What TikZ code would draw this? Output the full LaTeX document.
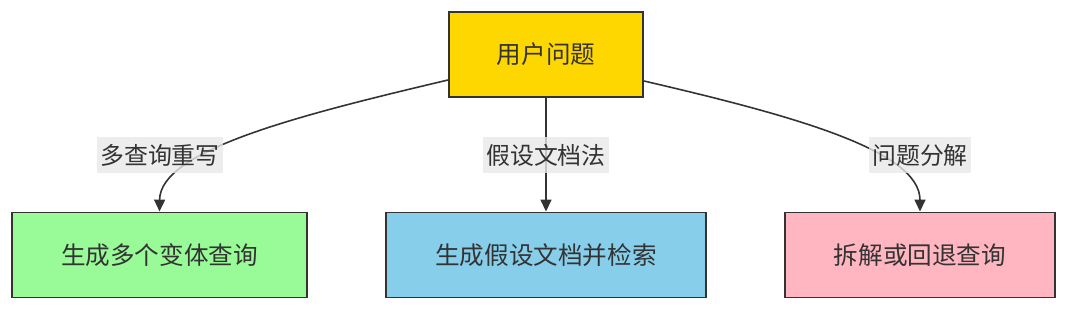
\documentclass[tikz,border=0pt]{standalone}
\usepackage{fontspec}
\setmainfont{Noto Sans CJK SC}
\usepackage{tikz}
\usetikzlibrary{arrows.meta}
\definecolor{qgold}{HTML}{FFD700}
\definecolor{qgreen}{HTML}{98FB98}
\definecolor{qblue}{HTML}{87CEEB}
\definecolor{qpink}{HTML}{FFB6C1}
\definecolor{linegray}{HTML}{333333}
\definecolor{labelgray}{HTML}{E8E8E8}

\begin{document}
\begin{tikzpicture}[x=0.02cm,y=-0.02cm,
  box/.style={draw=linegray,line width=1.1pt,text=linegray,minimum height=1.7cm,font=\fontsize{14}{16}\selectfont},
  lbl/.style={fill=labelgray,fill opacity=0.8,text opacity=1,text=linegray,inner xsep=0.06cm,minimum height=0.74cm,font=\fontsize{13.6}{16}\selectfont},
  flow/.style={draw=linegray,line width=0.9pt,-{Triangle[width=0.22cm,length=0.24cm]}}]
\useasboundingbox (0,0) rectangle (1080,314);
\node[box,fill=qgold,minimum width=3.88cm] (query) at (546,54.5) {用户问题};
\node[box,fill=qgreen,minimum width=5.9cm] (multi) at (159.5,255) {生成多个变体查询};
\node[box,fill=qblue,minimum width=6.4cm] (hyde) at (546,255) {生成假设文档并检索};
\node[box,fill=qpink,minimum width=5.4cm] (decomp) at (920,255) {拆解或回退查询};
\draw[flow] ([yshift=-0.51cm]query.west) .. controls (300,115) and (160,150) .. (multi.north);
\draw[flow] (query.south) -- (hyde.north);
\draw[flow] ([yshift=-0.53cm]query.east) .. controls (790,115) and (920,150) .. (decomp.north);
\node[lbl] (lmulti) at (160,155) {多查询重写};
\node[lbl] (lhyde) at (546,155) {假设文档法};
\node[lbl] (ldecomp) at (920,155) {问题分解};
\end{tikzpicture}
\end{document}
